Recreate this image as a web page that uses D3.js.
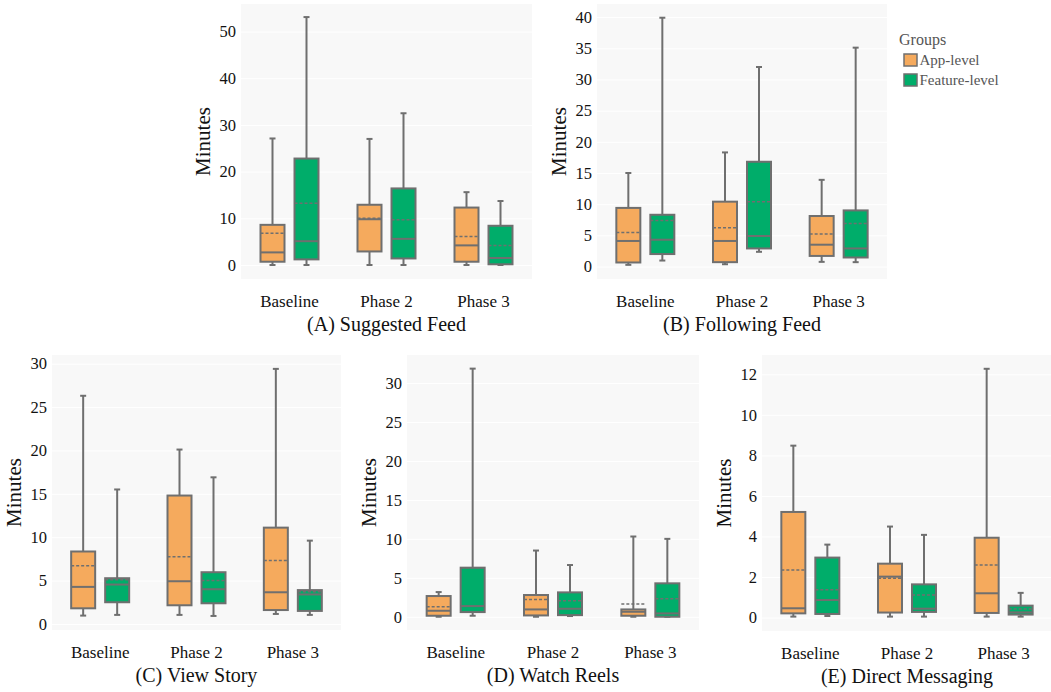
<!DOCTYPE html>
<html>
<head>
<meta charset="utf-8">
<script src="https://cdn.jsdelivr.net/npm/d3@7"></script>
<style>
  body { margin: 0; background: #fff; }
  svg { display: block; font-family: "Liberation Serif", "DejaVu Serif", serif; }
</style>
</head>
<body>
<div id="chart"></div>
<script>
// categories
var phases = ['Baseline', 'Phase 2', 'Phase 3'];
var groups = ['App-level', 'Feature-level'];
var groupColors = ['#f5aa5d', '#00ad6a'];

// box stats per phase: [low, q1, median, q3, high, mean]
var suggestedApp = [[0, 0.7, 2.7, 8.6, 27.1, 6.8], [0, 2.9, 9.8, 12.9, 27.0, 10.0], [0, 0.7, 4.2, 12.3, 15.6, 6.1]];
var suggestedFeature = [[0, 1.2, 5.1, 22.8, 53.1, 13.2], [0, 1.4, 5.6, 16.4, 32.5, 9.7], [0, 0.15, 1.5, 8.4, 13.7, 4.2]];
var followingApp = [[0.27, 0.65, 4.1, 9.4, 15.0, 5.45], [0.37, 0.7, 4.1, 10.4, 18.3, 6.2], [0.75, 1.7, 3.5, 8.1, 13.9, 5.2]];
var followingFeature = [[0.96, 2.0, 4.3, 8.3, 39.9, 7.4], [2.36, 2.9, 4.9, 16.8, 32.0, 10.4], [0.7, 1.45, 2.9, 9.0, 35.1, 6.9]];
var storyApp = [[0.96, 1.8, 4.27, 8.35, 26.3, 6.7], [1.04, 2.15, 4.92, 14.8, 20.1, 7.73], [1.15, 1.6, 3.65, 11.1, 29.4, 7.3]];
var storyFeature = [[1.04, 2.5, 4.54, 5.27, 15.5, 5.08], [0.92, 2.38, 4.0, 5.96, 16.9, 5.0], [1.04, 1.5, 3.4, 3.9, 9.6, 3.7]];
var reelsApp = [[0, 0.13, 0.77, 2.66, 3.17, 1.29], [0, 0.17, 0.94, 2.79, 8.5, 2.23], [0, 0.13, 0.64, 0.94, 10.3, 1.63]];
var reelsFeature = [[0.13, 0.6, 1.37, 6.3, 31.85, 6.3], [0.09, 0.21, 1.03, 3.13, 6.64, 2.06], [0, 0, 0.43, 4.29, 10.0, 2.32]];
var messagingApp = [[0.05, 0.21, 0.46, 5.21, 8.48, 2.35], [0.05, 0.25, 2.02, 2.66, 4.49, 1.94], [0.05, 0.23, 1.2, 3.94, 12.27, 2.6]];
var messagingFeature = [[0.08, 0.18, 0.87, 2.96, 3.6, 1.38], [0.05, 0.28, 0.44, 1.64, 4.08, 1.12], [0.05, 0.15, 0.26, 0.59, 1.22, 0.43]];

// tick labels
var ticksA = [0, 10, 20, 30, 40, 50];
var ticksB = [0, 5, 10, 15, 20, 25, 30, 35, 40];
var ticksC = [0, 5, 10, 15, 20, 25, 30];
var ticksD = [0, 5, 10, 15, 20, 25, 30];
var ticksE = [0, 2, 4, 6, 8, 10, 12];

var titles = ['(A) Suggested Feed', '(B) Following Feed', '(C) View Story', '(D) Watch Reels', '(E) Direct Messaging'];

var panels = [
    {title: titles[0], app: suggestedApp, feature: suggestedFeature, ticks: ticksA, domain: [-3, 55.9], x0: 241, x1: 532, y0: 4, y1: 279},
    {title: titles[1], app: followingApp, feature: followingFeature, ticks: ticksB, domain: [-2, 42.1], x0: 597, x1: 887, y0: 4, y1: 279},
    {title: titles[2], app: storyApp, feature: storyFeature, ticks: ticksC, domain: [-0.7, 31.0], x0: 52, x1: 341, y0: 355, y1: 630},
    {title: titles[3], app: reelsApp, feature: reelsFeature, ticks: ticksD, domain: [-1.7, 33.6], x0: 407, x1: 699, y0: 355, y1: 630},
    {title: titles[4], app: messagingApp, feature: messagingFeature, ticks: ticksE, domain: [-0.66, 12.95], x0: 762, x1: 1052, y0: 355, y1: 631}
];

var fontFamily = '"Liberation Serif", "DejaVu Serif", serif',
    lineColor = '#6f6f6f',
    boxWidth = 24,
    capWidth = 5;

var svg = d3.select('#chart').append('svg')
    .attr('width', 1051)
    .attr('height', 692);

panels.forEach(function (p) {
    var g = svg.append('g'),
        x = d3.scaleBand().domain(phases).range([p.x0, p.x1]),
        xg = d3.scalePoint().domain(groups).range([-17, 17]),
        y = d3.scaleLinear().domain(p.domain).range([p.y1, p.y0]);

    // plot background
    g.append('rect')
        .attr('x', p.x0)
        .attr('y', p.y0)
        .attr('width', p.x1 - p.x0)
        .attr('height', p.y1 - p.y0)
        .attr('fill', '#f8f8f8');

    // y axis with white gridlines
    var yAxis = g.append('g')
        .attr('transform', 'translate(' + p.x0 + ',0)')
        .call(d3.axisLeft(y).tickValues(p.ticks).tickSize(-(p.x1 - p.x0)).tickPadding(5).tickFormat(d3.format('d')))
        .attr('font-family', fontFamily)
        .attr('font-size', 16.5);
    yAxis.select('.domain').remove();
    yAxis.selectAll('line').attr('stroke', '#ffffff').attr('stroke-width', 1);
    yAxis.selectAll('text').attr('fill', '#111');

    // x axis labels
    var xAxis = g.append('g')
        .attr('transform', 'translate(0,' + p.y1 + ')')
        .call(d3.axisBottom(x).tickSize(0).tickPadding(16))
        .attr('font-family', fontFamily)
        .attr('font-size', 17);
    xAxis.select('.domain').remove();
    xAxis.selectAll('text').attr('fill', '#111');

    g.append('text')
        .attr('transform', 'translate(' + (p.x0 - 31) + ',' + ((p.y0 + p.y1) / 2) + ') rotate(-90)')
        .attr('text-anchor', 'middle')
        .style('font-size', '21px')
        .attr('fill', '#111')
        .text('Minutes');

    g.append('text')
        .attr('x', (p.x0 + p.x1) / 2)
        .attr('y', p.y1 + 52)
        .attr('text-anchor', 'middle')
        .style('font-size', '20px')
        .attr('fill', '#111')
        .text(p.title);

    var boxes = [];
    phases.forEach(function (ph, i) {
        boxes.push({phase: ph, group: groups[0], color: groupColors[0], s: p.app[i]});
        boxes.push({phase: ph, group: groups[1], color: groupColors[1], s: p.feature[i]});
    });

    var b = g.selectAll('.box')
        .data(boxes)
        .enter().append('g')
        .attr('class', 'box')
        .attr('transform', function (d) {
            return 'translate(' + (x(d.phase) + x.bandwidth() / 2 + xg(d.group)) + ',0)';
        });

    // whisker
    b.append('line')
        .attr('x1', 0).attr('x2', 0)
        .attr('y1', function (d) { return y(d.s[0]); })
        .attr('y2', function (d) { return y(d.s[4]); })
        .attr('stroke', lineColor)
        .attr('stroke-width', 2);
    [0, 4].forEach(function (k) {
        b.append('line')
            .attr('x1', -capWidth / 2 - 0.5).attr('x2', capWidth / 2 + 0.5)
            .attr('y1', function (d) { return y(d.s[k]); })
            .attr('y2', function (d) { return y(d.s[k]); })
            .attr('stroke', lineColor)
            .attr('stroke-width', 2);
    });
    // box
    b.append('rect')
        .attr('x', -boxWidth / 2)
        .attr('width', boxWidth)
        .attr('y', function (d) { return y(d.s[3]); })
        .attr('height', function (d) { return Math.max(0, y(d.s[1]) - y(d.s[3])); })
        .attr('fill', function (d) { return d.color; })
        .attr('stroke', lineColor)
        .attr('stroke-width', 2);
    // median
    b.append('line')
        .attr('x1', -boxWidth / 2).attr('x2', boxWidth / 2)
        .attr('y1', function (d) { return y(d.s[2]); })
        .attr('y2', function (d) { return y(d.s[2]); })
        .attr('stroke', lineColor)
        .attr('stroke-width', 2);
    // mean
    b.append('line')
        .attr('x1', -boxWidth / 2).attr('x2', boxWidth / 2)
        .attr('y1', function (d) { return y(d.s[5]); })
        .attr('y2', function (d) { return y(d.s[5]); })
        .attr('stroke', lineColor)
        .attr('stroke-width', 1.5)
        .attr('stroke-dasharray', '3,2');
});

// legend
var legend = svg.append('g').attr('transform', 'translate(899,0)');
legend.append('text')
    .attr('x', 0).attr('y', 45)
    .style('font-size', '16px')
    .attr('fill', '#555')
    .text('Groups');
var item = legend.selectAll('.item')
    .data(groups)
    .enter().append('g')
    .attr('class', 'item')
    .attr('transform', function (d, i) { return 'translate(0,' + (i * 20) + ')'; });
item.append('rect')
    .attr('x', 5).attr('y', 54)
    .attr('width', 13).attr('height', 12)
    .attr('fill', function (d, i) { return groupColors[i]; })
    .attr('stroke', lineColor)
    .attr('stroke-width', 1.5);
item.append('text')
    .attr('x', 20.5).attr('y', 65)
    .style('font-size', '15px')
    .attr('fill', '#555')
    .text(function (d) { return d; });
</script>
</body>
</html>
